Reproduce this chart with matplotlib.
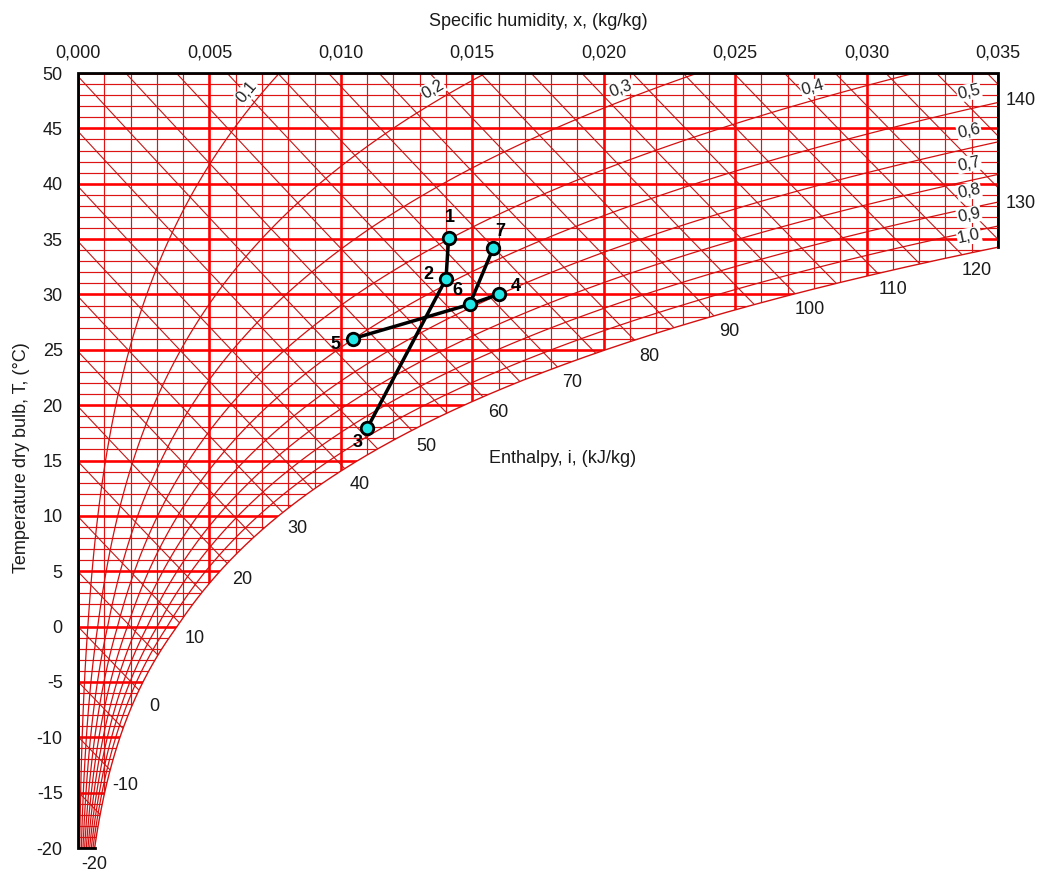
import numpy as np
import matplotlib
matplotlib.use('Agg')
import matplotlib.pyplot as plt
from matplotlib.patches import Polygon
from matplotlib.collections import LineCollection

plt.rcParams['font.family'] = ['Liberation Sans', 'DejaVu Sans']
plt.rcParams['axes.unicode_minus'] = False

# chart range
x_min, x_max = 0.0, 0.035
t_min, t_max = -20.0, 50.0

x_ticks = [0.000, 0.005, 0.010, 0.015, 0.020, 0.025, 0.030, 0.035]
x_tick_labels = ['0,000', '0,005', '0,010', '0,015', '0,020', '0,025', '0,030', '0,035']
t_ticks = [-20, -15, -10, -5, 0, 5, 10, 15, 20, 25, 30, 35, 40, 45, 50]

rh_values = [0.1, 0.2, 0.3, 0.4, 0.5, 0.6, 0.7, 0.8, 0.9, 1.0]
rh_labels = ['0,1', '0,2', '0,3', '0,4', '0,5', '0,6', '0,7', '0,8', '0,9', '1,0']
enthalpy_lines = list(range(-20, 145, 5))
enthalpy_labels = list(range(-20, 145, 10))

# process points (x kg/kg, T degC)
point_names = ['1', '2', '3', '4', '5', '6', '7']
point_x = [0.0141, 0.0140, 0.0110, 0.0160, 0.01045, 0.0149, 0.0158]
point_t = [35.1, 31.4, 17.9, 30.0, 26.0, 29.1, 34.2]
segments = [(1, 2), (2, 3), (5, 6), (6, 4), (6, 7)]

P = 101325.0


def p_sat(t):
    t = np.asarray(t, dtype=float)
    water = 610.78 * np.exp(17.27 * t / (t + 237.3))
    ice = 610.78 * np.exp(21.875 * t / (t + 265.5))
    return np.where(t >= 0, water, ice)


def x_rh(phi, t):
    pv = phi * p_sat(t)
    return 0.622 * pv / (P - pv)


def t_enth(i, x):
    return (i - 2501.0 * x) / (1.006 + 1.86 * x)


def x_enth(i, t):
    return (i - 1.006 * t) / (2501.0 + 1.86 * t)


def bisect(f, a, b, n=80):
    fa = f(a)
    for _ in range(n):
        m = 0.5 * (a + b)
        fm = f(m)
        if np.sign(fm) == np.sign(fa):
            a, fa = m, fm
        else:
            b = m
    return 0.5 * (a + b)


def main():
    fig = plt.figure(figsize=(10.37, 8.72), dpi=100)
    ax = fig.add_axes([78 / 1037, 1 - 848 / 872, 920 / 1037, 775 / 872])
    ax.set_xlim(x_min, x_max)
    ax.set_ylim(t_min, t_max)
    for s in ax.spines.values():
        s.set_visible(False)

    t_edge = bisect(lambda t: float(x_rh(1.0, t)) - x_max, 0, 50)
    ts = np.linspace(t_min, t_edge, 400)
    xs_sat = x_rh(1.0, ts)
    verts = list(zip(xs_sat, ts)) + [(x_max, t_max), (x_min, t_max), (x_min, t_min)]
    clip = Polygon(verts, closed=True, transform=ax.transData, fc='none', ec='none')
    ax.add_patch(clip)

    # grid: vertical lines every 0.001, horizontal every 1 degC
    thin, thick = [], []
    for k in range(36):
        x = k * 0.001
        seg = [(x, t_min), (x, t_max)]
        (thick if k % 5 == 0 else thin).append(seg)
    for t in range(int(t_min), int(t_max) + 1):
        seg = [(x_min, t), (x_max, t)]
        (thick if t % 5 == 0 else thin).append(seg)
    lc1 = LineCollection(thin, colors='#dc1414', linewidths=0.85)
    lc2 = LineCollection(thick, colors='#ff0000', linewidths=1.9)
    for lc in (lc1, lc2):
        lc.set_clip_path(clip)
        ax.add_collection(lc)

    # enthalpy lines
    xx = np.linspace(x_min, x_max, 300)
    ent = [np.column_stack([xx, t_enth(i, xx)]) for i in enthalpy_lines]
    lc3 = LineCollection(ent, colors='#c41818', linewidths=0.8)
    lc3.set_clip_path(clip)
    ax.add_collection(lc3)

    # relative humidity lines
    tt = np.linspace(t_min, t_max, 600)
    rhl = [np.column_stack([x_rh(phi, tt), tt]) for phi in rh_values[:-1]]
    lc4 = LineCollection(rhl, colors='#d41010', linewidths=0.9)
    lc4.set_clip_path(clip)
    ax.add_collection(lc4)
    ax.plot(xs_sat, ts, color='#d41010', lw=1.0)

    # black frame
    ax.plot([float(x_rh(1.0, t_min)), x_min, x_min, x_max, x_max],
            [t_min, t_min, t_max, t_max, t_edge],
            color='black', lw=2.0, clip_on=False, solid_joinstyle='miter', zorder=4)

    ax.xaxis.tick_top()
    ax.set_xticks(x_ticks)
    ax.set_xticklabels(x_tick_labels)
    ax.set_yticks(t_ticks)
    ax.tick_params(axis='x', length=0, pad=8, labelsize=13, colors='#1a1a1a')
    ax.tick_params(axis='y', length=0, pad=11, labelsize=13, colors='#1a1a1a')

    # enthalpy labels along saturation curve
    for i in enthalpy_labels:
        t_int = bisect(lambda t: x_enth(i, t) - float(x_rh(1.0, t)), -60, 60)
        x_int = float(x_rh(1.0, t_int))
        off = (15, -16)
        if x_int > x_max:
            x_int = x_max
            t_int = t_enth(i, x_max)
            off = (23, -16)
        elif t_int < t_min:
            t_int = t_min
            x_int = x_enth(i, t_min)
        ax.annotate(str(i), (x_int, t_int), xytext=off, textcoords='offset pixels',
                    ha='center', va='center', fontsize=13, color='#1a1a1a',
                    annotation_clip=False)

    # relative humidity labels
    for phi, lab in zip(rh_values, rh_labels):
        if phi < 0.45:
            t0 = 47.6
            x0 = float(x_rh(phi, t0))
        else:
            x0 = 0.0339
            t0 = bisect(lambda t: float(x_rh(phi, t)) - x0, -20, 60)
        x1 = float(x_rh(phi, t0 + 0.5))
        t1 = t0 + 0.5
        p0 = ax.transData.transform((x0, t0))
        p1 = ax.transData.transform((x1, t1))
        ang = np.arctan2(p1[1] - p0[1], p1[0] - p0[0])
        if phi < 0.45:
            off = (-12 * np.sin(ang), 12 * np.cos(ang))
        else:
            off = (0, 17)
        ax.annotate(lab, (x0, t0), xytext=off, textcoords='offset pixels',
                    ha='center', va='center', fontsize=12, color='#222222',
                    rotation=np.degrees(ang), rotation_mode='anchor',
                    bbox=dict(boxstyle='square,pad=0.05', fc='white', ec='none'),
                    zorder=5)

    # process lines and points
    for a, b in segments:
        ax.plot([point_x[a - 1], point_x[b - 1]], [point_t[a - 1], point_t[b - 1]],
                color='black', lw=2.5, zorder=6, solid_capstyle='round')
    ax.plot(point_x, point_t, 'o', ls='none', ms=9, mfc='#22e8e8', mec='black',
            mew=2.0, zorder=7)
    label_offsets = [(1, 20), (-18, 4), (-10, -14), (17, 8), (-17, -6), (-12, 14), (7, 16)]
    for name, x, t, off in zip(point_names, point_x, point_t, label_offsets):
        ax.annotate(name, (x, t), xytext=off, textcoords='offset pixels',
                    ha='center', va='center', fontsize=13, fontweight='bold', zorder=8)

    ax.text(0.01845, 15.2, 'Enthalpy, i, (kJ/kg)', ha='center', va='center',
            fontsize=13, color='#1a1a1a')
    fig.text(538 / 1037, 1 - 22 / 872, 'Specific humidity, x, (kg/kg)',
             ha='center', va='center', fontsize=13, color='#1a1a1a')
    fig.text(22 / 1037, 1 - 458 / 872, 'Temperature dry bulb, T, (°C)',
             ha='center', va='center', rotation=90, fontsize=13, color='#1a1a1a')

    fig.savefig('out.png', dpi=100)


if __name__ == '__main__':
    main()
